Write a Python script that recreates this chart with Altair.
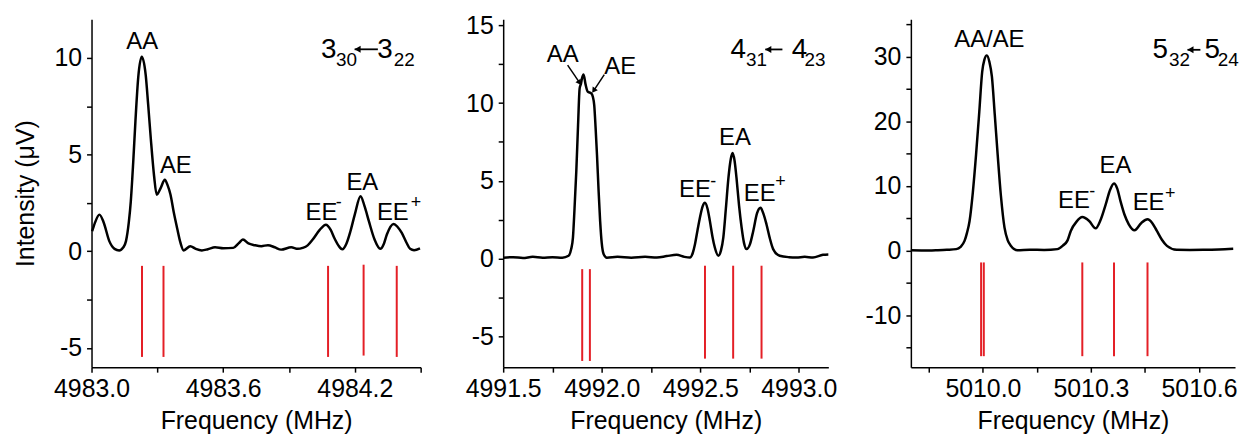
import altair as alt
import pandas as pd

FONT = "Liberation Sans"
RED = "#e41f26"

# ---------------- Panel 1 : 3_30 <- 3_22 ----------------
p1_f = [4983.003, 4983.015, 4983.036, 4983.055, 4983.081, 4983.105, 4983.126, 4983.145,
        4983.157, 4983.170, 4983.179, 4983.190, 4983.200, 4983.213, 4983.229, 4983.247,
        4983.258, 4983.270, 4983.285, 4983.297, 4983.315, 4983.334, 4983.347, 4983.360,
        4983.375, 4983.390, 4983.405, 4983.420, 4983.450, 4983.475, 4983.503, 4983.530,
        4983.563, 4983.600, 4983.646, 4983.670, 4983.690, 4983.715, 4983.744, 4983.774,
        4983.804, 4983.835, 4983.864, 4983.910, 4983.940, 4983.962, 4983.985, 4984.008,
        4984.040, 4984.068, 4984.090, 4984.106, 4984.125, 4984.143, 4984.162, 4984.180,
        4984.200, 4984.226, 4984.245, 4984.264, 4984.290, 4984.316, 4984.333, 4984.346,
        4984.377, 4984.395, 4984.414, 4984.435, 4984.452, 4984.470, 4984.497]
p1_v = [1.03, 1.45, 1.89, 1.50, 0.52, 0.12, 0.04, 0.20,
        0.52, 1.50, 2.58, 4.60, 6.70, 9.00, 10.05, 9.10,
        7.60, 5.84, 3.90, 2.92, 3.26, 3.69, 3.40, 2.92,
        2.00, 1.20, 0.45, 0.04, 0.26, 0.12, 0.04, 0.10,
        0.20, 0.15, 0.17, 0.40, 0.60, 0.40, 0.31, 0.26,
        0.31, 0.20, 0.08, 0.20, 0.12, 0.17, 0.30, 0.60,
        1.10, 1.37, 1.10, 0.69, 0.30, 0.10, 0.40, 1.03,
        1.90, 2.84, 2.30, 1.55, 0.60, 0.12, 0.40, 0.86,
        1.41, 1.25, 0.94, 0.45, 0.12, 0.05, 0.14]
p1_stick_f = [4983.230, 4983.328, 4984.078, 4984.240, 4984.391]
p1_stick_top = [-0.76, -0.76, -0.76, -0.70, -0.76]
p1_stick_bot = [-5.47, -5.47, -5.47, -5.40, -5.47]
p1_lab_text = ["AA", "AE", "EE", "EA", "EE"]
p1_lab_f = [4983.231, 4983.384, 4984.048, 4984.234, 4984.373]
p1_lab_v = [10.80, 4.39, 1.99, 3.53, 1.99]
p1_sup_text = ["-", "+"]
p1_sup_f = [4984.127, 4984.479]
p1_sup_v = [2.50, 2.50]
p1_tr_main = ["3", "3"]
p1_tr_main_f = [4984.0815, 4984.338]
p1_tr_main_v = [10.41, 10.41]
p1_tr_sub = ["30", "22"]
p1_tr_sub_f = [4984.162, 4984.425]
p1_tr_sub_v = [9.91, 9.88]
p1_tr_arrow_f = [4984.199, 4984.305]
p1_tr_arrow_v = 10.44
p1_xdom = [4983.0, 4984.5]
p1_ydom = [-6, 12]
p1_xticks = [4983.0, 4983.3, 4983.6, 4983.9, 4984.2, 4984.5]
p1_xlabels = [4983.0, 4983.6, 4984.2]
p1_yticks = [-5, -2.5, 0, 2.5, 5, 7.5, 10]
p1_ylabels = [-5, 0, 5, 10]

# ---------------- Panel 2 : 4_31 <- 4_23 ----------------
p2_f = [4991.50, 4991.55, 4991.60, 4991.65, 4991.70, 4991.75, 4991.80, 4991.832,
        4991.845, 4991.854, 4991.862, 4991.871, 4991.880, 4991.888, 4991.895, 4991.900,
        4991.908, 4991.918, 4991.929, 4991.947, 4991.955, 4991.962, 4991.969, 4991.976,
        4991.984, 4991.992, 4992.000, 4992.010, 4992.026, 4992.08, 4992.15, 4992.22,
        4992.28, 4992.33, 4992.38, 4992.42, 4992.448, 4992.462, 4992.473, 4992.486,
        4992.498, 4992.512, 4992.524, 4992.537, 4992.549, 4992.562, 4992.574, 4992.592,
        4992.605, 4992.617, 4992.630, 4992.643, 4992.655, 4992.664, 4992.674, 4992.684,
        4992.697, 4992.710, 4992.722, 4992.735, 4992.752, 4992.769, 4992.788, 4992.806,
        4992.820, 4992.836, 4992.853, 4992.870, 4992.903, 4992.95, 4992.988, 4993.03,
        4993.072, 4993.123, 4993.15]
p2_v = [0.05, 0.08, 0.03, 0.10, 0.05, 0.08, 0.05, 0.17,
        0.60, 1.34, 3.20, 5.60, 8.60, 10.94, 11.26, 11.60,
        11.84, 11.20, 10.73, 10.62, 10.40, 9.87, 8.40, 6.67,
        4.40, 2.40, 1.00, 0.27, 0.05, 0.10, 0.05, 0.10,
        0.06, 0.15, 0.23, 0.10, 0.06, 0.35, 0.90, 1.80,
        2.60, 3.35, 3.58, 3.20, 2.40, 1.40, 0.70, 0.17,
        0.50, 1.34, 3.20, 5.18, 6.40, 6.78, 6.30, 5.18,
        3.40, 1.98, 1.00, 0.60, 0.90, 1.77, 2.90, 3.26,
        2.90, 2.20, 1.30, 0.60, 0.17, 0.08, 0.06, 0.10,
        0.06, 0.23, 0.25]
p2_stick_f = [4991.901, 4991.940, 4992.524, 4992.667, 4992.811]
p2_stick_top = [-0.69, -0.69, -0.47, -0.47, -0.47]
p2_stick_bot = [-6.60, -6.60, -6.45, -6.45, -6.45]
p2_lab_text = ["AA", "AE", "EE", "EA", "EE"]
p2_lab_f = [4991.802, 4992.094, 4992.473, 4992.676, 4992.802]
p2_lab_v = [13.07, 12.33, 4.43, 7.74, 4.15]
p2_sup_text = ["-", "+"]
p2_sup_f = [4992.566, 4992.907]
p2_sup_v = [4.90, 4.90]
p2_tr_main = ["4", "4"]
p2_tr_main_f = [4992.6928, 4993.003]
p2_tr_main_v = [13.41, 13.41]
p2_tr_sub = ["31", "23"]
p2_tr_sub_f = [4992.785, 4993.082]
p2_tr_sub_v = [12.77, 12.77]
p2_tr_arrow_f = [4992.830, 4992.917]
p2_tr_arrow_v = 13.45
# small pointer arrows for AA and AE (tail -> tip)
p2_ptr_tail_f = [4991.827, 4992.013]
p2_ptr_tail_v = [12.44, 11.83]
p2_ptr_tip_f = [4991.885, 4991.962]
p2_ptr_tip_v = [11.36, 10.85]
p2_ptr_angle = [145, 215]
p2_xdom = [4991.5, 4993.15]
p2_ydom = [-7, 15.4]
p2_xticks = [4991.5, 4991.75, 4992.0, 4992.25, 4992.5, 4992.75, 4993.0]
p2_xlabels = [4991.5, 4992.0, 4992.5, 4993.0]
p2_yticks = [-5, -2.5, 0, 2.5, 5, 7.5, 10, 12.5, 15]
p2_ylabels = [-5, 0, 5, 10, 15]

# ---------------- Panel 3 : 5_32 <- 5_24 ----------------
p3_f = [5009.80, 5009.85, 5009.875, 5009.90, 5009.926, 5009.938, 5009.949, 5009.956,
        5009.963, 5009.972, 5009.981, 5009.990, 5009.998, 5010.004, 5010.011, 5010.018,
        5010.025, 5010.033, 5010.041, 5010.050, 5010.060, 5010.069, 5010.078, 5010.096,
        5010.13, 5010.17, 5010.207, 5010.222, 5010.235, 5010.244, 5010.260, 5010.276,
        5010.295, 5010.313, 5010.327, 5010.341, 5010.353, 5010.364, 5010.373, 5010.382,
        5010.393, 5010.405, 5010.421, 5010.440, 5010.457, 5010.470, 5010.483, 5010.497,
        5010.511, 5010.538, 5010.575, 5010.612, 5010.655, 5010.695]
p3_v = [0.09, 0.05, 0.09, 0.15, 0.25, 0.60, 1.52, 2.80,
        4.60, 9.00, 14.85, 21.50, 27.65, 29.50, 30.20, 29.20,
        26.90, 21.00, 14.85, 8.50, 3.57, 1.60, 0.75, 0.09,
        0.15, 0.12, 0.25, 0.80, 1.60, 3.06, 4.50, 5.20,
        4.60, 3.47, 4.80, 7.16, 9.40, 10.39, 9.60, 7.67,
        5.60, 4.09, 3.16, 4.30, 4.86, 4.30, 3.06, 1.70,
        0.75, 0.14, 0.12, 0.14, 0.20, 0.30]
p3_stick_f = [5009.995, 5010.0025, 5010.276, 5010.364, 5010.457]
p3_stick_top = [-1.81, -1.81, -1.81, -1.81, -1.81]
p3_stick_bot = [-16.3, -16.3, -16.3, -16.3, -16.3]
p3_lab_text = ["AA/AE", "EE", "EA", "EE"]
p3_lab_f = [5010.018, 5010.253, 5010.368, 5010.460]
p3_lab_v = [32.52, 7.67, 13.05, 7.41]
p3_sup_text = ["-", "+"]
p3_sup_f = [5010.3036, 5010.520]
p3_sup_v = [9.10, 8.70]
p3_tr_main = ["5", "5"]
p3_tr_main_f = [5010.4925, 5010.637]
p3_tr_main_v = [30.99, 30.99]
p3_tr_sub = ["32", "24"]
p3_tr_sub_f = [5010.5459, 5010.6812]
p3_tr_sub_v = [29.45, 29.45]
p3_tr_arrow_f = [5010.5680, 5010.6039]
p3_tr_arrow_v = 31.06
p3_xdom = [5009.8, 5010.7]
p3_ydom = [-18, 35.8]
p3_xticks = [5009.85, 5010.0, 5010.15, 5010.3, 5010.45, 5010.6]
p3_xlabels = [5010.0, 5010.3, 5010.6]
p3_yticks = [-15, -10, -5, 0, 5, 10, 15, 20, 25, 30, 35]
p3_ylabels = [-10, 0, 10, 20, 30]


def js_list(vals):
    return "[" + ",".join(repr(float(v)) for v in vals) + "]"


def panel(curve_f, curve_v, st_f, st_top, st_bot, lab_t, lab_f, lab_v,
          sup_t, sup_f, sup_v, trm_t, trm_f, trm_v, trs_t, trs_f, trs_v,
          tra_f, tra_v, xdom, ydom, xticks, xlabels, yticks, ylabels,
          width, ytitle, ptr=None):
    xaxis = alt.Axis(values=xticks,
                     labelExpr="indexof(" + js_list(xlabels) + ", datum.value) >= 0 ? format(datum.value, '.1f') : ''",
                     title="Frequency (MHz)", grid=False, labelOverlap=False, labelFlush=False,
                     tickSize=5, tickWidth=1.5, tickColor="black", domainColor="black",
                     domainWidth=1.5, labelFontSize=25, labelFont=FONT, labelColor="black",
                     labelPadding=4, titleFont=FONT, titleFontSize=25, titleFontWeight="normal",
                     titleColor="black", titlePadding=8)
    yaxis_kw = dict(values=yticks,
                    labelExpr="indexof(" + js_list(ylabels) + ", datum.value) >= 0 ? '' + datum.value : ''",
                    grid=False, labelOverlap=False, labelFlush=False,
                    tickSize=5, tickWidth=1.5, tickColor="black", domainColor="black",
                    domainWidth=1.5, labelFontSize=25, labelFont=FONT, labelColor="black",
                    labelPadding=5, titleFont=FONT, titleFontSize=25, titleFontWeight="normal",
                    titleColor="black", titlePadding=16)
    yaxis = alt.Axis(title=ytitle, **yaxis_kw) if ytitle else alt.Axis(title=None, **yaxis_kw)
    xs = alt.Scale(domain=xdom, nice=False, zero=False)
    ys = alt.Scale(domain=ydom, nice=False, zero=False)

    def X(field="f"):
        return alt.X(field + ":Q", scale=xs, axis=xaxis)

    def Y(field="v"):
        return alt.Y(field + ":Q", scale=ys, axis=yaxis)

    curve = alt.Chart(pd.DataFrame({"f": curve_f, "v": curve_v})).mark_line(
        color="black", strokeWidth=2.5, interpolate="monotone").encode(x=X(), y=Y())
    sticks = alt.Chart(pd.DataFrame({"f": st_f, "v": st_top, "v2": st_bot})).mark_rule(
        color=RED, strokeWidth=2).encode(x=X(), y=Y(), y2="v2:Q")
    labels = alt.Chart(pd.DataFrame({"f": lab_f, "v": lab_v, "t": lab_t})).mark_text(
        font=FONT, fontSize=24, color="black", align="center", baseline="middle").encode(
        x=X(), y=Y(), text="t:N")
    sups = alt.Chart(pd.DataFrame({"f": sup_f, "v": sup_v, "t": sup_t})).mark_text(
        font=FONT, fontSize=18, color="black", align="center", baseline="middle").encode(
        x=X(), y=Y(), text="t:N")
    trm = alt.Chart(pd.DataFrame({"f": trm_f, "v": trm_v, "t": trm_t})).mark_text(
        font=FONT, fontSize=28, color="black", align="center", baseline="middle").encode(
        x=X(), y=Y(), text="t:N")
    trs = alt.Chart(pd.DataFrame({"f": trs_f, "v": trs_v, "t": trs_t})).mark_text(
        font=FONT, fontSize=19, color="black", align="center", baseline="middle").encode(
        x=X(), y=Y(), text="t:N")
    arr_df = pd.DataFrame({"f": [tra_f[0]], "f2": [tra_f[1]], "v": [tra_v]})
    shaft = alt.Chart(arr_df).mark_rule(color="black", strokeWidth=1.8).encode(
        x=X(), x2="f2:Q", y=Y())
    head = alt.Chart(arr_df).mark_point(shape="triangle-left", filled=True, color="black",
                                        size=50, opacity=1, xOffset=3).encode(x=X(), y=Y())
    layers = [curve, sticks, labels, sups, trm, trs, shaft, head]
    if ptr is not None:
        tail_f, tail_v, tip_f, tip_v, ang = ptr
        pdf = pd.DataFrame({"f": tail_f, "v": tail_v, "f2": tip_f, "v2": tip_v, "a": ang})
        layers.append(alt.Chart(pdf).mark_rule(color="black", strokeWidth=1.5).encode(
            x=X(), y=Y(), x2="f2:Q", y2="v2:Q"))
        hdf = pd.DataFrame({"f": tip_f, "v": tip_v, "a": ang})
        layers.append(alt.Chart(hdf).mark_point(shape="triangle", filled=True, color="black",
                                                size=40, opacity=1).encode(
            x=X(), y=Y(), angle=alt.Angle("a:Q", scale=alt.Scale(domain=[0, 360], range=[0, 360]))))
    return alt.layer(*layers).properties(width=width, height=350)


c1 = panel(p1_f, p1_v, p1_stick_f, p1_stick_top, p1_stick_bot, p1_lab_text, p1_lab_f, p1_lab_v,
           p1_sup_text, p1_sup_f, p1_sup_v, p1_tr_main, p1_tr_main_f, p1_tr_main_v,
           p1_tr_sub, p1_tr_sub_f, p1_tr_sub_v, p1_tr_arrow_f, p1_tr_arrow_v,
           p1_xdom, p1_ydom, p1_xticks, p1_xlabels, p1_yticks, p1_ylabels, 331, "Intensity (\u03bcV)")
c2 = panel(p2_f, p2_v, p2_stick_f, p2_stick_top, p2_stick_bot, p2_lab_text, p2_lab_f, p2_lab_v,
           p2_sup_text, p2_sup_f, p2_sup_v, p2_tr_main, p2_tr_main_f, p2_tr_main_v,
           p2_tr_sub, p2_tr_sub_f, p2_tr_sub_v, p2_tr_arrow_f, p2_tr_arrow_v,
           p2_xdom, p2_ydom, p2_xticks, p2_xlabels, p2_yticks, p2_ylabels, 327, None,
           ptr=(p2_ptr_tail_f, p2_ptr_tail_v, p2_ptr_tip_f, p2_ptr_tip_v, p2_ptr_angle))
c3 = panel(p3_f, p3_v, p3_stick_f, p3_stick_top, p3_stick_bot, p3_lab_text, p3_lab_f, p3_lab_v,
           p3_sup_text, p3_sup_f, p3_sup_v, p3_tr_main, p3_tr_main_f, p3_tr_main_v,
           p3_tr_sub, p3_tr_sub_f, p3_tr_sub_v, p3_tr_arrow_f, p3_tr_arrow_v,
           p3_xdom, p3_ydom, p3_xticks, p3_xlabels, p3_yticks, p3_ylabels, 326, None)

chart = alt.hconcat(c1, c2, c3, spacing=83, bounds="flush").resolve_scale(
    x="independent", y="independent").properties(
    padding={"left": 5, "top": 3, "right": 0, "bottom": 0}).configure_view(strokeWidth=0)

chart.save("out.html", embed_options={"renderer": "svg", "actions": False})
